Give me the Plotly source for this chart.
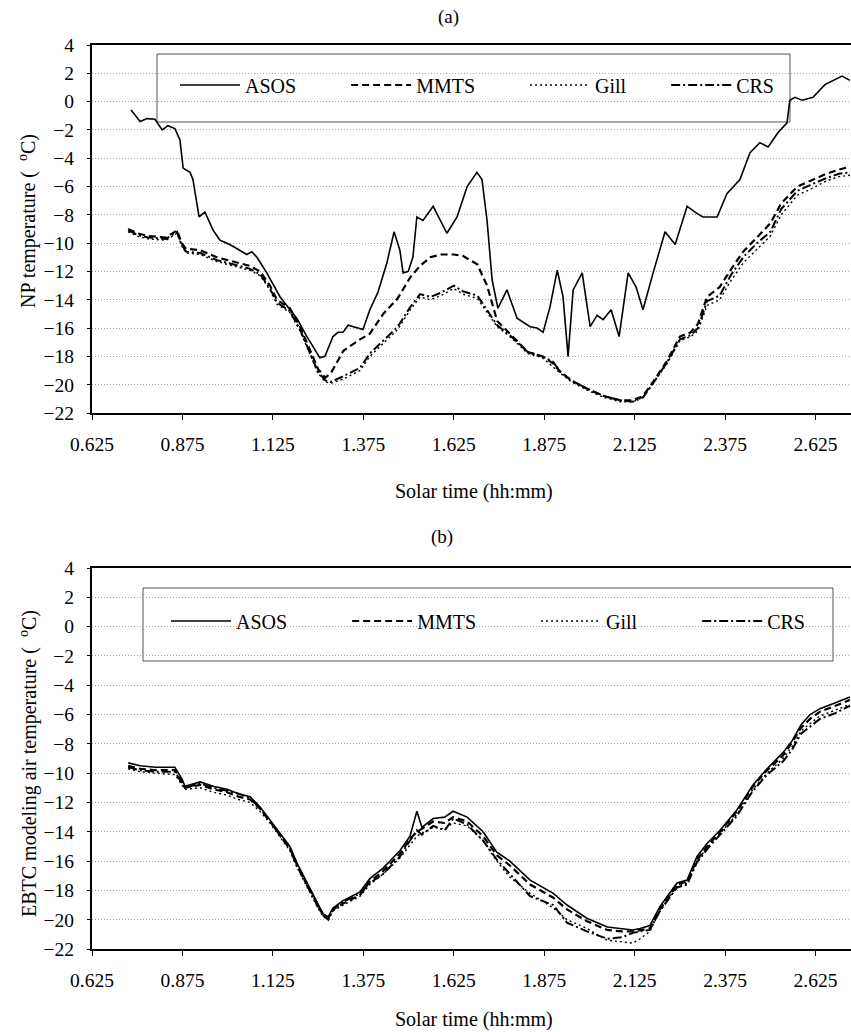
import plotly.graph_objects as go

# ---------------- panel (a): NP temperature ----------------
asos_a_t = [0.733, 0.758, 0.777, 0.799, 0.819, 0.835, 0.854, 0.868, 0.877, 0.896, 0.904, 0.921,
            0.937, 0.960, 0.979, 1.006, 1.053, 1.067, 1.081, 1.108, 1.145, 1.191, 1.219, 1.247,
            1.255, 1.269, 1.291, 1.305, 1.319, 1.333, 1.374, 1.393, 1.415, 1.440, 1.454, 1.460,
            1.476, 1.485, 1.499, 1.512, 1.523, 1.540, 1.568, 1.606, 1.634, 1.662, 1.689, 1.703,
            1.717, 1.731, 1.747, 1.772, 1.800, 1.836, 1.855, 1.872, 1.891, 1.911, 1.927, 1.941,
            1.955, 1.980, 2.002, 2.021, 2.038, 2.060, 2.082, 2.107, 2.129, 2.148, 2.176, 2.209,
            2.237, 2.270, 2.297, 2.314, 2.353, 2.380, 2.416, 2.444, 2.471, 2.494, 2.521, 2.546,
            2.554, 2.568, 2.588, 2.618, 2.651, 2.673, 2.698, 2.720]
asos_a = [-0.6, -1.4, -1.2, -1.25, -2.0, -1.7, -1.9, -2.7, -4.7, -5.0, -5.5, -8.15,
          -7.8, -9.1, -9.8, -10.1, -10.8, -10.6, -11.0, -12.1, -13.8, -15.3, -16.6, -17.8,
          -18.1, -18.0, -16.6, -16.3, -16.3, -15.8, -16.1, -14.7, -13.5, -11.4, -9.8, -9.2,
          -10.5, -12.1, -12.0, -11.0, -8.15, -8.4, -7.4, -9.3, -8.15, -6.0, -5.0, -5.5,
          -8.4, -12.6, -14.6, -13.3, -15.3, -15.9, -16.0, -16.3, -14.5, -11.9, -13.8, -18.0,
          -13.3, -12.1, -15.9, -15.1, -15.4, -14.7, -16.6, -12.1, -13.1, -14.7, -12.1, -9.2,
          -10.1, -7.4, -7.9, -8.15, -8.15, -6.5, -5.5, -3.6, -2.9, -3.2, -2.2, -1.5,
          0.1, 0.3, 0.1, 0.3, 1.2, 1.5, 1.8, 1.5]

sensors_a_t = [0.725, 0.750, 0.780, 0.830, 0.860, 0.873, 0.885, 0.925, 0.970, 1.015, 1.060, 1.090,
               1.117, 1.136, 1.172, 1.200, 1.228, 1.250, 1.270, 1.285, 1.320, 1.366, 1.393, 1.430,
               1.470, 1.505, 1.532, 1.560, 1.590, 1.625, 1.650, 1.690, 1.717, 1.745, 1.780, 1.830,
               1.870, 1.900, 1.920, 1.950, 1.995, 2.040, 2.085, 2.120, 2.148, 2.176, 2.215, 2.250,
               2.280, 2.300, 2.325, 2.360, 2.390, 2.425, 2.463, 2.500, 2.530, 2.555, 2.575, 2.610,
               2.655, 2.690, 2.720]
mmts_a = [-9.0, -9.3, -9.5, -9.6, -9.1, -10.0, -10.4, -10.5, -11.0, -11.3, -11.6, -12.0,
          -13.0, -14.0, -14.6, -15.9, -17.6, -18.9, -19.5, -19.2, -17.6, -16.8, -16.4, -15.0,
          -13.9, -12.4, -11.6, -11.0, -10.8, -10.8, -10.9, -11.5, -13.0, -15.5, -16.4, -17.7,
          -18.0, -18.5, -19.1, -19.7, -20.3, -20.8, -21.1, -21.1, -20.8, -19.8, -18.3, -16.6,
          -16.3, -15.7, -13.8, -13.1, -11.9, -10.6, -9.6, -8.6, -7.2, -6.5, -6.0, -5.6,
          -5.1, -4.8, -4.6]
gill_a = [-9.2, -9.5, -9.7, -9.8, -9.3, -10.2, -10.7, -10.8, -11.3, -11.6, -11.9, -12.3,
          -13.3, -14.3, -14.9, -16.2, -17.9, -19.2, -19.8, -19.9, -19.6, -19.0, -18.0, -17.1,
          -16.1, -14.7, -13.8, -14.0, -13.7, -13.2, -13.6, -13.9, -14.9, -15.9, -16.6, -17.8,
          -18.1, -18.8, -19.2, -19.8, -20.4, -20.9, -21.2, -21.2, -20.9, -19.9, -18.5, -16.9,
          -16.6, -16.2, -14.4, -14.0, -12.7, -11.4, -10.4, -9.5, -8.0, -7.2, -6.6, -6.2,
          -5.6, -5.3, -5.2]
crs_a = [-9.1, -9.4, -9.6, -9.7, -9.2, -10.1, -10.6, -10.7, -11.2, -11.5, -11.8, -12.2,
         -13.2, -14.2, -14.8, -16.1, -17.8, -19.1, -19.7, -19.8, -19.4, -18.8, -17.8, -16.9,
         -15.9, -14.5, -13.6, -13.8, -13.5, -13.0, -13.4, -13.7, -14.7, -15.8, -16.5, -17.7,
         -18.0, -18.4, -19.1, -19.7, -20.3, -20.8, -21.1, -21.2, -20.9, -19.9, -18.4, -16.8,
         -16.5, -16.0, -14.1, -13.7, -12.3, -11.0, -10.0, -9.2, -7.6, -6.9, -6.3, -5.9,
         -5.4, -5.1, -5.0]

# ---------------- panel (b): EBTC modeling air temperature ----------------
sensors_b_t = [0.725, 0.758, 0.800, 0.854, 0.874, 0.882, 0.924, 0.960, 0.998, 1.030, 1.062, 1.089,
               1.117, 1.145, 1.172, 1.191, 1.219, 1.247, 1.264, 1.278, 1.291, 1.319, 1.366, 1.393,
               1.429, 1.476, 1.504, 1.523, 1.537, 1.568, 1.600, 1.623, 1.662, 1.706, 1.744, 1.780,
               1.836, 1.900, 1.938, 1.993, 2.049, 2.090, 2.120, 2.140, 2.167, 2.195, 2.242, 2.270,
               2.297, 2.325, 2.361, 2.408, 2.452, 2.491, 2.535, 2.560, 2.585, 2.610, 2.637, 2.680,
               2.720]
asos_b = [-9.3, -9.5, -9.6, -9.6, -10.4, -10.9, -10.6, -10.9, -11.1, -11.4, -11.6, -12.3,
          -13.2, -14.1, -15.0, -16.1, -17.4, -18.8, -19.6, -19.8, -19.2, -18.7, -18.1, -17.2,
          -16.5, -15.3, -14.3, -12.6, -13.7, -13.1, -13.0, -12.6, -13.0, -14.0, -15.4, -16.0,
          -17.3, -18.2, -19.0, -19.9, -20.5, -20.6, -20.7, -20.6, -20.4, -19.1, -17.5, -17.3,
          -15.7, -14.8, -13.9, -12.5, -10.8, -9.7, -8.6, -7.8, -6.7, -6.0, -5.6, -5.2,
          -4.8]
mmts_b = [-9.5, -9.7, -9.8, -9.8, -10.6, -11.0, -10.8, -11.1, -11.3, -11.6, -11.8, -12.4,
          -13.3, -14.2, -15.1, -16.2, -17.6, -18.9, -19.7, -19.9, -19.3, -18.9, -18.3, -17.4,
          -16.7, -15.5, -14.5, -14.0, -13.8, -13.3, -13.4, -13.0, -13.3, -14.3, -15.6, -16.3,
          -17.6, -18.5, -19.3, -20.1, -20.7, -20.8, -20.8, -20.7, -20.6, -19.3, -17.6, -17.4,
          -15.9, -15.0, -14.0, -12.6, -10.9, -9.8, -8.8, -7.9, -6.9, -6.3, -5.8, -5.4,
          -5.0]
gill_b = [-9.7, -9.9, -10.0, -10.1, -10.8, -11.1, -11.0, -11.3, -11.5, -11.8, -12.0, -12.6,
          -13.4, -14.4, -15.3, -16.4, -17.8, -19.1, -19.8, -20.0, -19.4, -19.0, -18.4, -17.6,
          -16.9, -15.8, -14.9, -14.3, -14.1, -13.7, -13.8, -13.4, -13.6, -14.6, -16.0, -17.1,
          -18.2, -19.2, -20.0, -20.6, -21.4, -21.5, -21.6, -21.3, -20.8, -19.4, -17.7, -17.5,
          -16.0, -15.1, -14.1, -12.8, -11.1, -10.0, -9.0, -8.2, -7.1, -6.6, -6.1, -5.7,
          -5.3]
crs_b = [-9.6, -9.8, -9.9, -9.9, -10.7, -11.0, -10.7, -11.0, -11.2, -11.4, -11.7, -12.4,
         -13.3, -14.3, -15.2, -16.3, -17.7, -19.0, -19.7, -20.0, -19.3, -18.8, -18.2, -17.5,
         -16.9, -15.7, -14.6, -13.9, -14.2, -13.6, -13.9, -13.1, -13.5, -14.6, -15.9, -16.9,
         -18.4, -19.0, -20.2, -20.8, -21.3, -21.2, -20.9, -20.8, -20.7, -19.4, -17.8, -17.6,
         -16.1, -15.2, -14.2, -12.9, -11.2, -10.1, -9.2, -8.4, -7.3, -6.8, -6.3, -5.9,
         -5.4]

# ---------------- axes / ticks ----------------
x_ticks = [0.625, 0.875, 1.125, 1.375, 1.625, 1.875, 2.125, 2.375, 2.625]
x_tick_text = ["0.625", "0.875", "1.125", "1.375", "1.625", "1.875", "2.125", "2.375", "2.625"]
y_ticks = list(range(-22, 5, 2))
x_range = [0.625, 2.723]
y_range = [-22, 4]

series_names = ["ASOS", "MMTS", "Gill", "CRS"]

NBSP = "\u00a0"
# legend labels, padded with no-break spaces to open the gap before the next key
legend_labels_a = {"ASOS": "ASOS" + NBSP * 9, "MMTS": "MMTS" + NBSP * 9,
                   "Gill": "Gill" + NBSP * 7, "CRS": "CRS"}
legend_labels_b = {"ASOS": "ASOS" + NBSP * 11, "MMTS": "MMTS" + NBSP * 11,
                   "Gill": "Gill" + NBSP * 11, "CRS": "CRS"}

FONT = '"Liberation Serif", "Times New Roman", Times, serif'
W, H = 851, 1032

styles = {
    "ASOS": dict(color="black", width=1.6, dash="solid"),
    "MMTS": dict(color="black", width=2.2, dash="7px,4px"),
    "Gill": dict(color="black", width=1.4, dash="2px,3px"),
    "CRS": dict(color="black", width=2.0, dash="9px,3px,2px,3px"),
}

fig = go.Figure()

panel_a = {"ASOS": (asos_a_t, asos_a), "MMTS": (sensors_a_t, mmts_a),
           "Gill": (sensors_a_t, gill_a), "CRS": (sensors_a_t, crs_a)}
panel_b = {"ASOS": (sensors_b_t, asos_b), "MMTS": (sensors_b_t, mmts_b),
           "Gill": (sensors_b_t, gill_b), "CRS": (sensors_b_t, crs_b)}

for name in series_names:
    t, v = panel_a[name]
    fig.add_trace(go.Scatter(x=t, y=v, mode="lines", name=legend_labels_a[name], line=styles[name],
                             xaxis="x", yaxis="y", legend="legend"))
for name in series_names:
    t, v = panel_b[name]
    fig.add_trace(go.Scatter(x=t, y=v, mode="lines", name=legend_labels_b[name], line=styles[name],
                             xaxis="x2", yaxis="y2", legend="legend2"))

# pixel helpers for layout placement
def px_x(p):
    return p / W

def px_y(p):
    return 1 - p / H

top_a, bot_a = 45, 413
top_b, bot_b = 568, 949

xaxis_common = dict(
    range=x_range, tickvals=x_ticks, ticktext=x_tick_text, showgrid=False, zeroline=False,
    showline=True, linecolor="black", linewidth=2, mirror=True,
    ticks="outside", ticklen=5, tickwidth=1, tickcolor="black",
    tickfont=dict(family=FONT, size=19.5, color="black"), ticklabelstandoff=8,
    automargin=False,
)
yaxis_common = dict(
    range=y_range, tickvals=y_ticks, showgrid=True, gridcolor="#a8a8a8", griddash="1px,2px",
    gridwidth=1, zeroline=False, showline=True, linecolor="black", linewidth=2,
    ticks="outside", ticklen=3, tickwidth=1, tickcolor="black",
    tickfont=dict(family=FONT, size=19.5, color="black"), ticklabelstandoff=9,
    automargin=False,
)

legend_common = dict(
    orientation="h", bgcolor="rgba(0,0,0,0)", borderwidth=0,
    font=dict(family=FONT, size=20, color="black"), itemwidth=60,
    xanchor="left", yanchor="middle", xref="paper", yref="paper", entrywidth=0,
)

fig.update_layout(
    width=W, height=H, paper_bgcolor="white", plot_bgcolor="white",
    margin=dict(l=0, r=0, t=0, b=0),
    font=dict(family=FONT, size=19, color="black"),
    xaxis=dict(domain=[px_x(92), 1], anchor="y", **xaxis_common),
    yaxis=dict(domain=[px_y(bot_a), px_y(top_a)], anchor="x", **yaxis_common),
    xaxis2=dict(domain=[px_x(92), 1], anchor="y2", **xaxis_common),
    yaxis2=dict(domain=[px_y(bot_b), px_y(top_b)], anchor="x2", **yaxis_common),
    legend=dict(x=px_x(175), y=px_y(85), **legend_common),
    legend2=dict(x=px_x(166), y=px_y(621), **legend_common),
    showlegend=True,
)

# legend frames
fig.add_shape(type="rect", xref="paper", yref="paper",
              x0=px_x(157), x1=px_x(790), y0=px_y(122), y1=px_y(54),
              line=dict(color="#555555", width=1), fillcolor="white", layer="below")
fig.add_shape(type="rect", xref="paper", yref="paper",
              x0=px_x(143), x1=px_x(833), y0=px_y(661), y1=px_y(588),
              line=dict(color="#555555", width=1), fillcolor="white", layer="below")

# panel labels and axis titles
title_font = dict(family=FONT, size=20, color="black")
label_font = dict(family=FONT, size=19, color="black")
centered = dict(xref="paper", yref="paper", showarrow=False, xanchor="center", yanchor="middle")
fig.add_annotation(text="(a)", x=px_x(448), y=px_y(17), font=label_font, **centered)
fig.add_annotation(text="(b)", x=px_x(442), y=px_y(537), font=label_font, **centered)
fig.add_annotation(text="Solar time (hh:mm)", x=px_x(474), y=px_y(492), font=title_font, **centered)
fig.add_annotation(text="Solar time (hh:mm)", x=px_x(474), y=px_y(1019), font=title_font, **centered)
fig.add_annotation(text="NP temperature (  <sup>o</sup>C)", x=px_x(28), y=px_y(221),
                   textangle=-90, font=title_font, **centered)
fig.add_annotation(text="EBTC modeling air temperature (  <sup>o</sup>C)", x=px_x(28), y=px_y(764),
                   textangle=-90, font=title_font, **centered)

fig.write_html("out.html")
